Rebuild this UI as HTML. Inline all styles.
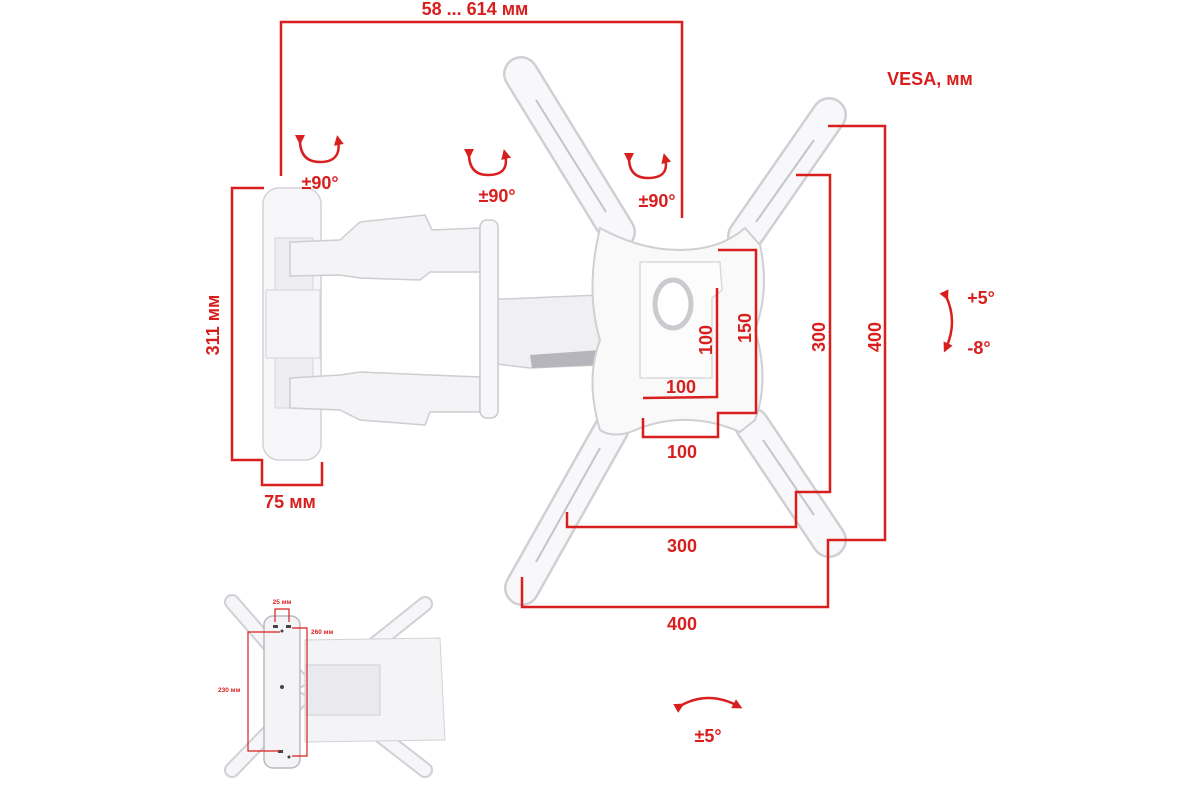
<!DOCTYPE html>
<html><head><meta charset="utf-8"><style>
html,body{margin:0;padding:0;background:#fff;width:1200px;height:800px;overflow:hidden}
svg{display:block}
text{font-family:"Liberation Sans",sans-serif;font-weight:bold;fill:#d91e1e}
</style></head><body>
<svg width="1200" height="800" viewBox="0 0 1200 800" xmlns="http://www.w3.org/2000/svg">
<defs>
<marker id="ah" markerWidth="10" markerHeight="10" refX="5" refY="5" orient="auto" markerUnits="userSpaceOnUse"><path d="M0,0 L10,5 L0,10 z" fill="#d91e1e"/></marker>
</defs>
<rect width="1200" height="800" fill="#fff"/>

<g stroke-linecap="round">
  <line x1="521" y1="74" x2="618" y2="232" stroke="#cfcfd4" stroke-width="36"/>
  <line x1="521" y1="74" x2="618" y2="232" stroke="#f8f8fa" stroke-width="31"/>
  <line x1="829" y1="115" x2="745" y2="236" stroke="#cfcfd4" stroke-width="36"/>
  <line x1="829" y1="115" x2="745" y2="236" stroke="#f8f8fa" stroke-width="31"/>
  <line x1="522" y1="588" x2="612" y2="428" stroke="#cfcfd4" stroke-width="36"/>
  <line x1="522" y1="588" x2="612" y2="428" stroke="#f8f8fa" stroke-width="31"/>
  <line x1="829" y1="540" x2="752" y2="425" stroke="#cfcfd4" stroke-width="36"/>
  <line x1="829" y1="540" x2="752" y2="425" stroke="#f8f8fa" stroke-width="31"/>
</g>
<g stroke="#c4c4ca" stroke-width="2" fill="none">
  <line x1="536" y1="100" x2="606" y2="212"/>
  <line x1="814" y1="140" x2="756" y2="222"/>
  <line x1="536" y1="562" x2="600" y2="448"/>
  <line x1="814" y1="515" x2="763" y2="440"/>
</g>
<path d="M480,300 L600,295 L610,350 L598,365 L530,368 L480,362 Z" fill="#f0f0f3" stroke="#cdcdd2" stroke-width="1.5"/>
<path d="M530,355 L600,350 L598,365 L532,368 Z" fill="#b5b5bb"/>
<path d="M600,228 Q640,250 680,250 Q720,250 745,228 L760,245 Q770,290 755,330 Q770,380 755,420 L740,432 Q690,410 640,428 Q615,440 600,430 Q585,380 600,340 Q585,290 600,228 Z" fill="#f9f9fa" stroke="#cfcfd4" stroke-width="2"/>
<path d="M640,262 L720,262 L722,290 L712,298 L712,378 L640,378 Z" fill="#fcfcfd" stroke="#dadade" stroke-width="1.5"/>
<ellipse cx="673" cy="304" rx="18" ry="24" fill="#fff" stroke="#cacacf" stroke-width="5"/>

<rect x="263" y="188" width="58" height="272" rx="16" fill="#f7f7f9" stroke="#d2d2d7" stroke-width="1.5"/>
<rect x="275" y="238" width="38" height="170" fill="#eeeef1" stroke="#d5d5da"/>
<rect x="266" y="290" width="54" height="68" fill="#f5f5f7" stroke="#d3d3d8"/>
<path d="M290,242 L340,240 L360,222 L425,215 L432,230 L480,228 L480,272 L430,272 L420,280 L360,278 L340,275 L290,276 Z" fill="#f4f4f6" stroke="#cdcdd2" stroke-width="1.5"/>
<path d="M290,378 L340,375 L360,372 L430,375 L480,377 L480,412 L430,412 L425,425 L360,420 L340,410 L290,408 Z" fill="#f4f4f6" stroke="#cdcdd2" stroke-width="1.5"/>
<rect x="480" y="220" width="18" height="198" rx="7" fill="#f7f7f9" stroke="#cacacf" stroke-width="1.5"/>

<g stroke="#d91e1e" stroke-width="2.5" fill="none">
  <polyline points="281,176 281,22 682,22 682,218"/>
  <polyline points="264,188 232,188 232,460 262,460 262,485 322,485 322,462"/>
  <polyline points="828,126 885,126 885,540 828,540 828,607 522,607 522,577"/>
  <polyline points="796,175 830,175 830,492 796,492 796,527 567,527 567,512"/>
  <polyline points="718,250 756,250 756,413 718,413 718,437 643,437 643,418"/>
  <polyline points="717,288 717,397 643,398"/>
  <path d="M300,140 Q300,162 320,162 Q342,162 338,140" marker-start="url(#ah)" marker-end="url(#ah)"/>
  <path d="M469,154 Q469,175 488,175 Q510,175 505,154" marker-start="url(#ah)" marker-end="url(#ah)"/>
  <path d="M629,158 Q629,178 648,178 Q670,178 665,158" marker-start="url(#ah)" marker-end="url(#ah)"/>
  <path d="M946,296 Q958,322 946,348" marker-start="url(#ah)" marker-end="url(#ah)"/>
  <path d="M680,706 Q708,690 738,706" marker-start="url(#ah)" marker-end="url(#ah)"/>
</g>
<g font-size="18">
<text x="475" y="15" text-anchor="middle">58 ... 614 мм</text>
<text x="320" y="189" text-anchor="middle">±90°</text>
<text x="497" y="202" text-anchor="middle">±90°</text>
<text x="657" y="207" text-anchor="middle">±90°</text>
<text x="930" y="85" text-anchor="middle">VESA, мм</text>
<text x="290" y="508" text-anchor="middle">75 мм</text>
<text transform="translate(219,325) rotate(-90)" text-anchor="middle">311 мм</text>
<text x="682" y="552" text-anchor="middle">300</text>
<text x="682" y="630" text-anchor="middle">400</text>
<text x="682" y="458" text-anchor="middle">100</text>
<text x="681" y="393" text-anchor="middle">100</text>
<text transform="translate(712,340) rotate(-90)" text-anchor="middle">100</text>
<text transform="translate(751,328) rotate(-90)" text-anchor="middle">150</text>
<text transform="translate(825,337) rotate(-90)" text-anchor="middle">300</text>
<text transform="translate(881,337) rotate(-90)" text-anchor="middle">400</text>
<text x="981" y="304" text-anchor="middle">+5°</text>
<text x="979" y="354" text-anchor="middle">-8°</text>
<text x="708" y="742" text-anchor="middle">±5°</text>
</g>

<g stroke-linecap="round">
  <line x1="232" y1="602" x2="300" y2="680" stroke="#d0d0d5" stroke-width="16"/>
  <line x1="232" y1="602" x2="300" y2="680" stroke="#f6f6f8" stroke-width="12"/>
  <line x1="425" y1="604" x2="330" y2="680" stroke="#d0d0d5" stroke-width="16"/>
  <line x1="425" y1="604" x2="330" y2="680" stroke="#f6f6f8" stroke-width="12"/>
  <line x1="232" y1="770" x2="300" y2="700" stroke="#d0d0d5" stroke-width="16"/>
  <line x1="232" y1="770" x2="300" y2="700" stroke="#f6f6f8" stroke-width="12"/>
  <line x1="425" y1="770" x2="350" y2="712" stroke="#d0d0d5" stroke-width="16"/>
  <line x1="425" y1="770" x2="350" y2="712" stroke="#f6f6f8" stroke-width="12"/>
</g>
<path d="M305,640 L440,638 L445,740 L305,742 Z" fill="#f4f4f6" stroke="#d3d3d8"/>
<rect x="305" y="665" width="75" height="50" fill="#eaeaee" stroke="#cfcfd4"/>
<rect x="264" y="616" width="36" height="152" rx="9" fill="#f4f4f6" stroke="#b9b9bf" stroke-width="1.5"/>
<g fill="#444"><rect x="273" y="625" width="5" height="3"/><rect x="286" y="625" width="5" height="3"/><circle cx="282" cy="631" r="1.5"/><circle cx="282" cy="687" r="2"/><rect x="278" y="750" width="5" height="3"/><circle cx="289" cy="757" r="1.5"/></g>
<g stroke="#d91e1e" stroke-width="1.2" fill="none">
  <polyline points="275,622 275,609 289,609 289,622"/>
  <polyline points="292,628 307,628 307,756 292,756"/>
  <polyline points="280,632 248,632 248,751 280,751"/>
</g>
<g font-size="6.5">
<text x="282" y="604" text-anchor="middle">25 мм</text>
<text x="311" y="634">260 мм</text>
<text x="218" y="692">230 мм</text>
</g>
</svg>
</body></html>
